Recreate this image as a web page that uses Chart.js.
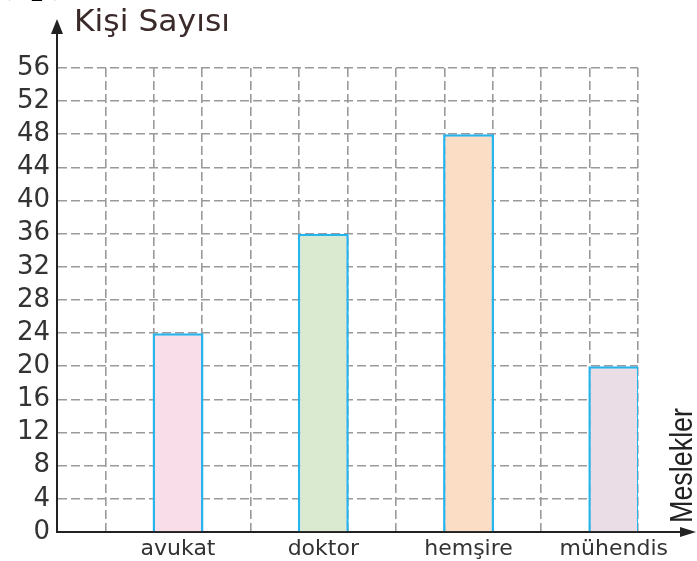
<!DOCTYPE html>
<html>
<head>
<meta charset="utf-8">
<script src="https://cdn.jsdelivr.net/npm/chart.js@4/dist/chart.umd.min.js"></script>
<style>
html,body{margin:0;padding:0;background:#fff;}
#wrap{width:697px;height:561px;position:relative;}
</style>
</head>
<body>
<div id="wrap"><canvas id="c"></canvas></div>
<script>
const categories = ["avukat", "doktor", "hemşire", "mühendis"];
const values = [24, 36, 48, 20];
const yTickValues = [0, 4, 8, 12, 16, 20, 24, 28, 32, 36, 40, 44, 48, 52, 56];
const fillColors = ["#F9DDE9", "#D9EAD1", "#FBDCC4", "#EBDDE6"];
const yTitle = "Kişi Sayısı";
const xTitle = "Meslekler";
const cornerText = "(4p)";

// each category takes three grid columns; the bar sits in the last one
const slotLabels = [];
const slotData = [];
const slotColors = [];
categories.forEach((c, i) => {
  slotLabels.push("", "", c);
  slotData.push(null, null, values[i]);
  slotColors.push("rgba(0,0,0,0)", "rgba(0,0,0,0)", fillColors[i]);
});

const GRID = "#9a9a9a";

const decor = {
  id: "decor",
  afterDraw(chart) {
    const ctx = chart.ctx;
    const a = chart.chartArea;
    ctx.save();
    ctx.strokeStyle = "#222";
    ctx.fillStyle = "#222";
    ctx.lineWidth = 2;
    // y axis extension + arrow
    ctx.beginPath();
    ctx.moveTo(a.left, a.top);
    ctx.lineTo(a.left, 30);
    ctx.stroke();
    ctx.beginPath();
    ctx.moveTo(a.left, 19);
    ctx.lineTo(a.left - 6, 34);
    ctx.lineTo(a.left + 6, 34);
    ctx.closePath();
    ctx.fill();
    // x axis extension + arrow
    ctx.beginPath();
    ctx.moveTo(a.right, a.bottom);
    ctx.lineTo(684, a.bottom);
    ctx.stroke();
    ctx.beginPath();
    ctx.moveTo(696, a.bottom);
    ctx.lineTo(680, a.bottom - 5);
    ctx.lineTo(680, a.bottom + 5);
    ctx.closePath();
    ctx.fill();

    // y title
    ctx.fillStyle = "#3b2a2a";
    ctx.font = "30px 'DejaVu Sans'";
    ctx.textBaseline = "alphabetic";
    ctx.textAlign = "left";
    let w = ctx.measureText(yTitle).width;
    ctx.save();
    ctx.translate(74, 31);
    ctx.scale(156 / w, 1);
    ctx.fillText(yTitle, 0, 0);
    ctx.restore();

    // x title (rotated)
    ctx.fillStyle = "#222";
    ctx.font = "31px 'Liberation Sans Narrow', 'Liberation Sans', 'DejaVu Sans'";
    w = ctx.measureText(xTitle).width;
    ctx.save();
    ctx.translate(692, 523);
    ctx.rotate(-Math.PI / 2);
    ctx.scale(115 / w, 1);
    ctx.fillText(xTitle, 0, 0);
    ctx.restore();

    // clipped corner label
    ctx.fillStyle = "#000";
    ctx.font = "bold 40px 'Liberation Serif', serif";
    ctx.fillText(cornerText, -2, -8);
    ctx.restore();
  }
};

new Chart(document.getElementById("c"), {
  type: "bar",
  data: {
    labels: slotLabels,
    datasets: [{
      data: slotData,
      backgroundColor: slotColors,
      borderColor: "#27B4EC",
      borderWidth: 2.5,
      barPercentage: 1.052,
      categoryPercentage: 1
    }]
  },
  options: {
    responsive: true,
    maintainAspectRatio: false,
    animation: false,
    layout: { padding: { top: 68, right: 59, left: 0, bottom: 0 } },
    plugins: { legend: { display: false }, tooltip: { enabled: false }, title: { display: false } },
    scales: {
      x: {
        offset: true,
        grid: {
          offset: true,
          color: GRID,
          lineWidth: 1.6,
          tickLength: 0,
          drawTicks: false
        },
        border: { display: true, color: "#222", width: 2, dash: [9, 4] },
        ticks: {
          autoSkip: false,
          maxRotation: 0,
          padding: 4,
          color: "#333",
          font: { family: "'DejaVu Sans'", size: 22 }
        },
        afterFit(s) { s.height = 29; }
      },
      y: {
        min: 0,
        max: 56,
        afterBuildTicks(s) { s.ticks = yTickValues.map(v => ({ value: v })); },
        grid: {
          color: GRID,
          lineWidth: 1.6,
          drawTicks: false,
          tickLength: 0
        },
        border: { display: true, color: "#222", width: 2, dash: [9, 4] },
        ticks: {
          autoSkip: false,
          padding: 7,
          color: "#333",
          font: { family: "'DejaVu Sans'", size: 26 }
        },
        afterFit(s) { s.width = 57; }
      }
    }
  },
  plugins: [decor]
});
</script>
</body>
</html>
